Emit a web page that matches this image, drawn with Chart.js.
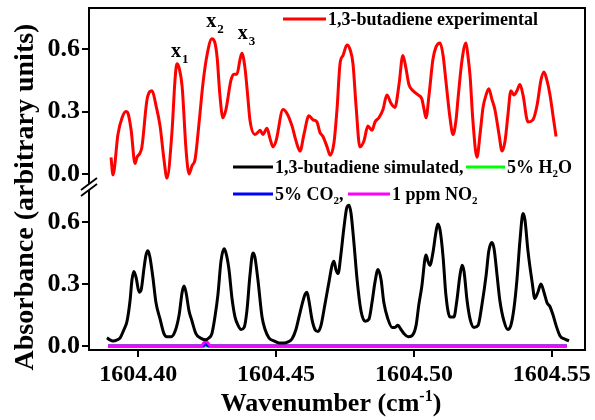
<!DOCTYPE html>
<html><head><meta charset="utf-8">
<script src="https://cdn.jsdelivr.net/npm/chart.js@4.4.1/dist/chart.umd.min.js"></script>
<style>html,body{margin:0;padding:0;background:#fff;}canvas{display:block;}</style>
</head><body>
<canvas id="c" width="595" height="420"></canvas>
<script>
// ---------- DATA ----------
const expX = [1604.3901,1604.3908,1604.3926,1604.3941,1604.3955,1604.3963,1604.3974,1604.3988,1604.3995,1604.4006,1604.4013,1604.4032,1604.4050,1604.4064,1604.4079,1604.4093,1604.4104,1604.4122,1604.4133,1604.4140,1604.4148,1604.4159,1604.4173,1604.4184,1604.4195,1604.4206,1604.4220,1604.4235,1604.4249,1604.4267,1604.4278,1604.4286,1604.4296,1604.4307,1604.4318,1604.4336,1604.4347,1604.4358,1604.4369,1604.4376,1604.4387,1604.4398,1604.4405,1604.4423,1604.4434,1604.4442,1604.4452,1604.4467,1604.4478,1604.4489,1604.4500,1604.4525,1604.4540,1604.4558,1604.4572,1604.4587,1604.4601,1604.4619,1604.4634,1604.4648,1604.4659,1604.4670,1604.4685,1604.4696,1604.4710,1604.4721,1604.4732,1604.4743,1604.4757,1604.4768,1604.4779,1604.4790,1604.4804,1604.4819,1604.4833,1604.4848,1604.4859,1604.4873,1604.4888,1604.4902,1604.4917,1604.4931,1604.4946,1604.4960,1604.4971,1604.4982,1604.4997,1604.5015,1604.5029,1604.5037,1604.5044,1604.5055,1604.5069,1604.5080,1604.5095,1604.5106,1604.5116,1604.5131,1604.5142,1604.5153,1604.5160,1604.5175,1604.5189,1604.5196,1604.5204,1604.5214,1604.5229,1604.5240,1604.5251,1604.5262,1604.5272,1604.5283,1604.5294,1604.5309,1604.5320,1604.5331,1604.5341,1604.5352,1604.5363,1604.5374,1604.5385,1604.5396,1604.5414,1604.5432,1604.5447,1604.5461,1604.5472,1604.5483,1604.5494,1604.5505,1604.5516];
const expY = [0.08,-0.005,0.19,0.27,0.30,0.29,0.21,0.05,0.08,0.10,0.13,0.36,0.40,0.33,0.23,0.07,-0.02,0.20,0.45,0.53,0.51,0.42,0.12,0.00,0.04,0.07,0.24,0.44,0.57,0.65,0.63,0.56,0.38,0.27,0.31,0.45,0.48,0.48,0.55,0.58,0.51,0.36,0.26,0.19,0.20,0.21,0.19,0.22,0.17,0.13,0.16,0.31,0.29,0.23,0.16,0.11,0.19,0.28,0.26,0.25,0.20,0.18,0.13,0.09,0.15,0.31,0.53,0.57,0.62,0.60,0.53,0.33,0.13,0.16,0.23,0.21,0.25,0.27,0.31,0.38,0.34,0.32,0.43,0.57,0.51,0.43,0.40,0.38,0.36,0.31,0.27,0.38,0.55,0.61,0.63,0.57,0.45,0.27,0.19,0.26,0.36,0.55,0.63,0.57,0.47,0.26,0.08,0.19,0.32,0.38,0.41,0.36,0.31,0.19,0.11,0.16,0.28,0.40,0.38,0.40,0.43,0.38,0.25,0.26,0.33,0.45,0.49,0.45,0.38,0.28,0.18];

const simX = [1604.3886,1604.3897,1604.3908,1604.3923,1604.3934,1604.3948,1604.3959,1604.3970,1604.3977,1604.3984,1604.3992,1604.4003,1604.4010,1604.4021,1604.4028,1604.4035,1604.4042,1604.4053,1604.4064,1604.4079,1604.4093,1604.4104,1604.4119,1604.4133,1604.4148,1604.4159,1604.4166,1604.4173,1604.4184,1604.4195,1604.4209,1604.4224,1604.4242,1604.4257,1604.4267,1604.4278,1604.4289,1604.4300,1604.4311,1604.4318,1604.4329,1604.4340,1604.4351,1604.4362,1604.4373,1604.4384,1604.4394,1604.4405,1604.4416,1604.4423,1604.4434,1604.4449,1604.4460,1604.4474,1604.4492,1604.4511,1604.4529,1604.4543,1604.4558,1604.4572,1604.4583,1604.4594,1604.4605,1604.4612,1604.4619,1604.4630,1604.4641,1604.4652,1604.4663,1604.4677,1604.4692,1604.4703,1604.4710,1604.4717,1604.4725,1604.4735,1604.4746,1604.4757,1604.4765,1604.4772,1604.4783,1604.4794,1604.4808,1604.4823,1604.4837,1604.4848,1604.4859,1604.4870,1604.4881,1604.4891,1604.4906,1604.4921,1604.4931,1604.4942,1604.4953,1604.4964,1604.4979,1604.4993,1604.5008,1604.5018,1604.5029,1604.5040,1604.5044,1604.5051,1604.5058,1604.5069,1604.5080,1604.5087,1604.5095,1604.5106,1604.5116,1604.5131,1604.5145,1604.5156,1604.5167,1604.5175,1604.5182,1604.5193,1604.5204,1604.5218,1604.5233,1604.5247,1604.5262,1604.5272,1604.5283,1604.5291,1604.5302,1604.5312,1604.5327,1604.5341,1604.5352,1604.5363,1604.5374,1604.5385,1604.5396,1604.5403,1604.5414,1604.5429,1604.5439,1604.5450,1604.5461,1604.5472,1604.5483,1604.5494,1604.5505,1604.5516,1604.5530,1604.5545,1604.5563];
const simY = [0.04,0.03,0.025,0.03,0.04,0.08,0.12,0.22,0.32,0.36,0.33,0.26,0.27,0.38,0.44,0.46,0.43,0.33,0.21,0.13,0.06,0.045,0.045,0.07,0.15,0.26,0.29,0.26,0.17,0.12,0.06,0.04,0.03,0.04,0.06,0.14,0.25,0.41,0.47,0.45,0.37,0.23,0.14,0.10,0.08,0.09,0.17,0.34,0.45,0.43,0.32,0.14,0.08,0.04,0.025,0.015,0.015,0.02,0.035,0.08,0.14,0.20,0.25,0.26,0.22,0.13,0.08,0.07,0.10,0.20,0.31,0.39,0.41,0.37,0.35,0.44,0.57,0.67,0.68,0.64,0.49,0.32,0.17,0.12,0.13,0.21,0.31,0.37,0.32,0.21,0.13,0.09,0.09,0.10,0.08,0.06,0.045,0.05,0.10,0.20,0.29,0.42,0.44,0.41,0.39,0.45,0.55,0.59,0.56,0.43,0.25,0.14,0.14,0.22,0.34,0.39,0.36,0.22,0.13,0.09,0.10,0.20,0.34,0.46,0.50,0.47,0.34,0.22,0.12,0.08,0.10,0.18,0.32,0.51,0.64,0.61,0.46,0.31,0.23,0.26,0.30,0.26,0.21,0.19,0.15,0.10,0.05,0.035,0.025];

const h2oX = [1604.3890, 1604.5555];
const h2oY = [0, 0];
const co2X = [1604.3890, 1604.4236, 1604.4245, 1604.4254, 1604.5555];
const co2Y = [0, 0, 0.015, 0, 0];
const no2X = [1604.3890, 1604.4227, 1604.4245, 1604.4263, 1604.5555];
const no2Y = [0, 0, 0.025, 0, 0];

const xTicks = [1604.40, 1604.45, 1604.50, 1604.55];
const yTicks = [0.0, 0.3, 0.6];
const xRange = [1604.3821, 1604.5621];
const upperRange = [-0.058, 0.798];
const lowerRange = [-0.019, 0.773];

const names = {
  exp: [['1,3-butadiene experimental']],
  sim: [['1,3-butadiene simulated,']],
  h2o: [['5% H'], ['2', 'sub'], ['O']],
  co2: [['5% CO'], ['2', 'sub'], [',']],
  no2: [['1 ppm NO'], ['2', 'sub']]
};
const colors = { exp: '#ff0000', sim: '#000000', h2o: '#00ff00', co2: '#0000ff', no2: '#ff00ff' };
const peakMarks = [
  { label: 'x', sub: '1', x: 1604.4137, y: 0.5625 },
  { label: 'x', sub: '2', x: 1604.4265, y: 0.707 },
  { label: 'x', sub: '3', x: 1604.4379, y: 0.649 }
];

// ---------- CHART ----------
const FONT = "'Liberation Serif', 'Times New Roman', serif";
const pts = (xs, ys) => xs.map((x, i) => ({ x: x, y: ys[i] }));

function drawRich(ctx, segs, x, y, size) {
  let cx = x;
  for (const s of segs) {
    const sub = s[1] === 'sub', sup = s[1] === 'sup';
    const fs = (sub || sup) ? Math.round(size * 0.62) : size;
    ctx.font = 'bold ' + fs + 'px ' + FONT;
    const dy = sub ? size * 0.32 : (sup ? -size * 0.38 : 0);
    ctx.fillText(s[0], cx, y + dy);
    cx += ctx.measureText(s[0]).width;
  }
  return cx - x;
}
function richWidth(ctx, segs, size) {
  let w = 0;
  for (const s of segs) {
    const fs = s[1] ? Math.round(size * 0.62) : size;
    ctx.font = 'bold ' + fs + 'px ' + FONT;
    w += ctx.measureText(s[0]).width;
  }
  return w;
}

const deco = {
  id: 'deco',
  afterDraw(chart) {
    const { ctx, chartArea: a, scales } = chart;
    ctx.save();
    ctx.strokeStyle = '#000';
    ctx.lineWidth = 2;
    ctx.beginPath();
    ctx.moveTo(a.left - 1, a.top);
    ctx.lineTo(a.right, a.top);
    ctx.lineTo(a.right, a.bottom + 1);
    ctx.stroke();

    // axis break marks
    const by = scales.yLow.top;
    const bx = a.left;
    ctx.fillStyle = '#fff';
    ctx.beginPath();
    ctx.moveTo(bx - 8, by + 4); ctx.lineTo(bx + 8, by - 8);
    ctx.lineTo(bx + 8, by - 2); ctx.lineTo(bx - 8, by + 10);
    ctx.closePath(); ctx.fill();
    ctx.beginPath();
    ctx.moveTo(bx - 8, by + 4); ctx.lineTo(bx + 8, by - 8);
    ctx.moveTo(bx - 8, by + 10); ctx.lineTo(bx + 8, by - 2);
    ctx.lineWidth = 1.8; ctx.stroke();

    // legend
    ctx.textBaseline = 'middle';
    ctx.textAlign = 'left';
    ctx.fillStyle = '#000';
    const LS = 18;
    const item = (key, x0, x1, y) => {
      ctx.strokeStyle = colors[key]; ctx.lineWidth = 3;
      ctx.beginPath(); ctx.moveTo(x0, y); ctx.lineTo(x1, y); ctx.stroke();
      ctx.fillStyle = '#000';
      drawRich(ctx, names[key], x1 + 2, y + 1, LS);
    };
    item('exp', 283, 326, 19);
    item('sim', 233, 273, 167);
    item('h2o', 466, 505, 167);
    item('co2', 233, 273, 194);
    item('no2', 348, 390, 194);

    // peak labels
    ctx.textBaseline = 'alphabetic';
    const xs = scales.x, ys = scales.yUp;
    for (const p of peakMarks) {
      const px = xs.getPixelForValue(p.x), py = ys.getPixelForValue(p.y);
      ctx.font = 'bold 20px ' + FONT;
      const w = ctx.measureText(p.label).width;
      ctx.fillText(p.label, px - w / 2, py);
      ctx.font = 'bold 13px ' + FONT;
      ctx.fillText(p.sub, px + w / 2 + 1, py + 6);
    }

    // axis titles
    ctx.fillStyle = '#000';
    const xt = [['Wavenumber (cm'], ['-1', 'sup'], [')']];
    const XS = 26;
    const tw = richWidth(ctx, xt, XS);
    ctx.textBaseline = 'alphabetic';
    drawRich(ctx, xt, (a.left + a.right) / 2 - tw / 2 - 6, 411, XS);

    ctx.translate(26, 197);
    ctx.rotate(-Math.PI / 2);
    ctx.font = 'bold 28px ' + FONT;
    ctx.textAlign = 'center';
    ctx.textBaseline = 'middle';
    ctx.fillText('Absorbance (arbitrary units)', 0, 0);
    ctx.restore();
  }
};

const tickFont = { family: FONT, weight: 'bold', size: 24 };
const yTickFont = { family: FONT, weight: 'bold', size: 26 };
const yAxis = (range, weight) => ({
  type: 'linear', position: 'left', stack: 'brk', stackWeight: weight,
  min: range[0], max: range[1],
  afterBuildTicks: s => { s.ticks = yTicks.map(v => ({ value: v })); },
  afterFit: s => { s.width = 89; s.paddingTop = 0; s.paddingBottom = 0; },
  ticks: { font: yTickFont, color: '#000', padding: 2, callback: v => Number(v).toFixed(1) },
  grid: { drawOnChartArea: false, drawTicks: true, tickLength: 7, color: '#000', lineWidth: 2 },
  border: { display: true, color: '#000', width: 2 }
});

new Chart(document.getElementById('c'), {
  type: 'line',
  data: {
    datasets: [
      { label: 'exp', data: pts(expX, expY), yAxisID: 'yUp', borderColor: colors.exp, borderWidth: 3, order: 1 },
      { label: 'sim', data: pts(simX, simY), yAxisID: 'yLow', borderColor: colors.sim, borderWidth: 3, order: 2 },
      { label: 'h2o', data: pts(h2oX, h2oY), yAxisID: 'yLow', borderColor: colors.h2o, borderWidth: 3, order: 5 },
      { label: 'co2', data: pts(co2X, co2Y), yAxisID: 'yLow', borderColor: colors.co2, borderWidth: 3, order: 4 },
      { label: 'no2', data: pts(no2X, no2Y), yAxisID: 'yLow', borderColor: colors.no2, borderWidth: 3, order: 3 }
    ]
  },
  options: {
    responsive: false, animation: false, devicePixelRatio: 1,
    layout: { padding: { left: 0, right: 10, top: 8, bottom: 0 } },
    elements: { point: { radius: 0 }, line: { cubicInterpolationMode: 'monotone', fill: false } },
    plugins: { legend: { display: false }, tooltip: { enabled: false } },
    scales: {
      x: {
        type: 'linear', min: xRange[0], max: xRange[1],
        afterBuildTicks: s => { s.ticks = xTicks.map(v => ({ value: v })); },
        afterFit: s => { s.height = 70; s.paddingLeft = 0; s.paddingRight = 0; },
        ticks: { font: tickFont, color: '#000', padding: 3, maxRotation: 0, autoSkip: false, callback: v => Number(v).toFixed(2) },
        grid: { drawOnChartArea: false, drawTicks: true, tickLength: 7, color: '#000', lineWidth: 2 },
        border: { display: true, color: '#000', width: 2 }
      },
      yLow: yAxis(lowerRange, 164),
      yUp: yAxis(upperRange, 178)
    }
  },
  plugins: [deco]
});
</script>
</body></html>
